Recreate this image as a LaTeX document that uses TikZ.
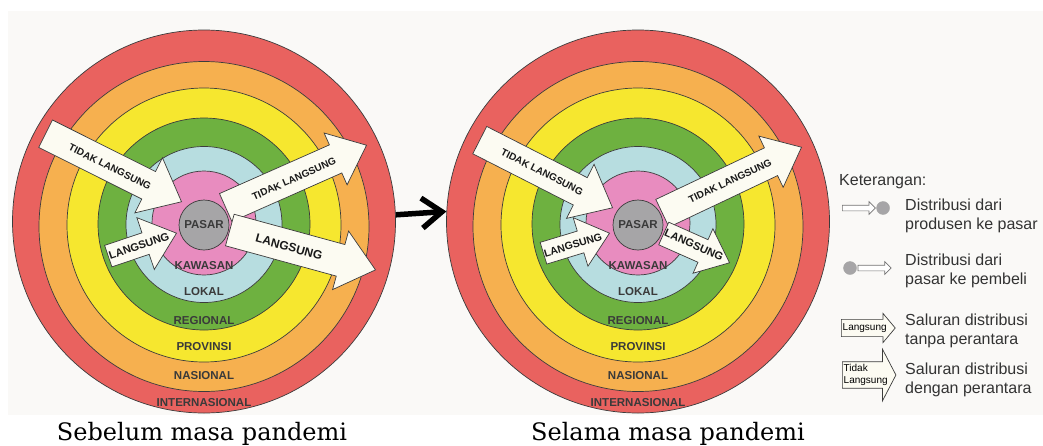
\documentclass[tikz,border=0pt]{standalone}
\usepackage{fontspec}
\setmainfont{Liberation Sans}
\newfontfamily\capfont{DejaVu Serif}
\usepackage{tikz}
\usetikzlibrary{arrows.meta, positioning, calc, shapes.arrows}
\usepackage{xcolor}

\definecolor{ringRed}{HTML}{E9625F}
\definecolor{ringOrange}{HTML}{F6B04F}
\definecolor{ringYellow}{HTML}{F6E72F}
\definecolor{ringGreen}{HTML}{6EB140}
\definecolor{ringBlue}{HTML}{B7DDE0}
\definecolor{ringPink}{HTML}{E88CBF}
\definecolor{pasarGray}{HTML}{A6A5A7}
\definecolor{arrowFill}{HTML}{FCFBF2}
\definecolor{edgeGray}{HTML}{3C3C3C}
\definecolor{panelBg}{HTML}{FAF9F7}
\definecolor{lblGray}{HTML}{3A3A3A}

\begin{document}
\begin{tikzpicture}[x=1pt, y=-1pt,
  ring/.style={circle, draw=edgeGray, line width=0.7pt, inner sep=0pt},
  ringlbl/.style={font=\fontsize{11.5}{12}\selectfont\bfseries, text=lblGray, inner sep=0pt},
  blockarr/.style n args={3}{single arrow, draw=edgeGray, fill=arrowFill, line width=0.7pt,
    inner xsep=0pt, inner ysep=#2, minimum height=#1, single arrow head extend=#3,
    single arrow head indent=0pt, single arrow tip angle=80, anchor=tip},
  arrtxt/.style={font=\fontsize{10}{10}\selectfont\bfseries, text=black!90, inner sep=0pt},
  legtxt/.style={font=\fontsize{16}{19}\selectfont, text=black!80, anchor=west, align=left, inner sep=0pt},
  legarr/.style={single arrow, draw=black!55, fill=white, line width=0.7pt, inner sep=0pt,
    inner ysep=2.5pt, minimum height=33pt, single arrow head extend=3.5pt,
    single arrow head indent=0pt, single arrow tip angle=90},
  legdot/.style={circle, draw=black!35, fill=pasarGray, inner sep=0pt, minimum size=13pt},
  legblock/.style={single arrow, draw=edgeGray, fill=arrowFill, line width=0.7pt,
    single arrow head indent=0pt, font=\fontsize{10}{12}\selectfont, anchor=tail, inner xsep=1pt},
  captxt/.style={font=\capfont\fontsize{24}{28}\selectfont, anchor=base, inner sep=0pt},
  midarr/.style={line width=5.5pt, -{Straight Barb[length=20pt, width=30pt]}}]

  % --- page and panel ---
  \fill[white] (0,0) rectangle (1043,445);
  \useasboundingbox (0,0) rectangle (1043,445);
  \fill[panelBg] (8,11) rectangle (1043,415);

  % --- rings, both panels ---
  \foreach \cx/\sd in {204/L, 638/R}{
    \node[ring, fill=ringRed, minimum size=383pt] (int\sd) at (\cx,221.5) {};
    \node[ring, fill=ringOrange, minimum size=330pt] (nas\sd) at (\cx,226.5) {};
    \node[ring, fill=ringYellow, minimum size=274pt] (prov\sd) at (\cx,225) {};
    \node[ring, fill=ringGreen, minimum size=212pt] (reg\sd) at (\cx,224) {};
    \node[ring, fill=ringBlue, minimum size=156pt] (lok\sd) at (\cx,224.5) {};
    \node[ring, fill=ringPink, minimum size=104pt] (kaw\sd) at (\cx,223) {};

    \node[ringlbl] (kawLbl\sd) at (\cx,266) {KAWASAN};
    \node[ringlbl] (lokLbl\sd) at (\cx,292) {LOKAL};
    \node[ringlbl] (regLbl\sd) at (\cx,321) {REGIONAL};
    \node[ringlbl] (provLbl\sd) at (\cx,347) {PROVINSI};
    \node[ringlbl] (nasLbl\sd) at (\cx,376) {NASIONAL};
    \node[ringlbl] (intLbl\sd) at (\cx,403) {INTERNASIONAL};
  }

  % --- channels, before the pandemic ---
  \node[blockarr={152pt}{15pt}{15.5pt}, rotate=-26.6] (tlInL) at (182,202) {};
  \node[arrtxt, rotate=-26.6] (tlInLtxt) at (110,167) {TIDAK LANGSUNG};
  \node[blockarr={72pt}{11pt}{16pt}, rotate=18.6] (lgInL) at (177,233) {};
  \node[arrtxt, font=\fontsize{11}{11}\selectfont\bfseries, rotate=18.6] (lgInLtxt) at (139,246) {LANGSUNG};
  \node[blockarr={154pt}{15pt}{13pt}, rotate=23.9] (tlOutL) at (367,145) {};
  \node[arrtxt, rotate=23.9] (tlOutLtxt) at (294,179) {TIDAK LANGSUNG};
  \node[blockarr={151pt}{16pt}{14pt}, rotate=-15.3] (lgOutL) at (376,270) {};
  \node[arrtxt, font=\fontsize{12}{12}\selectfont\bfseries, rotate=-15.3] (lgOutLtxt) at (289,247) {LANGSUNG};

  % --- channels, during the pandemic ---
  \node[blockarr={149pt}{15pt}{15pt}, rotate=-27] (tlInR) at (613,208) {};
  \node[arrtxt, rotate=-27] (tlInRtxt) at (542,172) {TIDAK LANGSUNG};
  \node[blockarr={69pt}{11pt}{14pt}, rotate=16.9] (lgInR) at (610,233) {};
  \node[arrtxt, font=\fontsize{10.5}{11}\selectfont\bfseries, rotate=16.9] (lgInRtxt) at (573,245) {LANGSUNG};
  \node[blockarr={154pt}{15pt}{13pt}, rotate=25.4] (tlOutR) at (802,147) {};
  \node[arrtxt, rotate=25.4] (tlOutRtxt) at (730,181) {TIDAK LANGSUNG};
  \node[blockarr={72pt}{12pt}{12pt}, rotate=-24] (lgOutR) at (730,263) {};
  \node[arrtxt, font=\fontsize{11}{11}\selectfont\bfseries, rotate=-24] (lgOutRtxt) at (694,245) {LANGSUNG};

  % --- market in the middle ---
  \foreach \cx/\sd in {204/L, 638/R}
    \node[ring, fill=pasarGray, minimum size=50pt, font=\fontsize{11.5}{12}\selectfont\bfseries, text=lblGray] (pasar\sd) at (\cx,225) {PASAR};

  % --- before -> during ---
  \draw[midarr] (intL.2.5) -- (intR.177.5);

  % --- captions ---
  \node[captxt] (capL) at (202,440) {Sebelum masa pandemi};
  \node[captxt] (capR) at (668,440) {Selama masa pandemi};

  % --- legend ---
  \node[legtxt] (ket) at (839,182) {Keterangan:};
  \node[legarr, anchor=tail] (lg1arr) at (842,208) {};
  \node[legdot, right=0.5pt of lg1arr] (lg1dot) {};
  \node[legtxt] (lg1txt) at (905,216) {Distribusi dari\\produsen ke pasar};
  \node[legdot] (lg2dot) at (850,268) {};
  \node[legarr, right=1pt of lg2dot] (lg2arr) {};
  \node[legtxt] (lg2txt) at (905,271) {Distribusi dari\\pasar ke pembeli};
  \node[legblock, inner ysep=3.8pt, single arrow head extend=6pt, single arrow tip angle=100] (lg3arr) at (841,328) {Langsung};
  \node[legtxt] (lg3txt) at (905,331) {Saluran distribusi\\tanpa perantara};
  \node[legblock, align=left, inner ysep=2.3pt, single arrow head extend=12.5pt, single arrow tip angle=125] (lg4arr) at (842,375) {Tidak\\Langsung};
  \node[legtxt] (lg4txt) at (905,380) {Saluran distribusi\\dengan perantara};
\end{tikzpicture}
\end{document}
